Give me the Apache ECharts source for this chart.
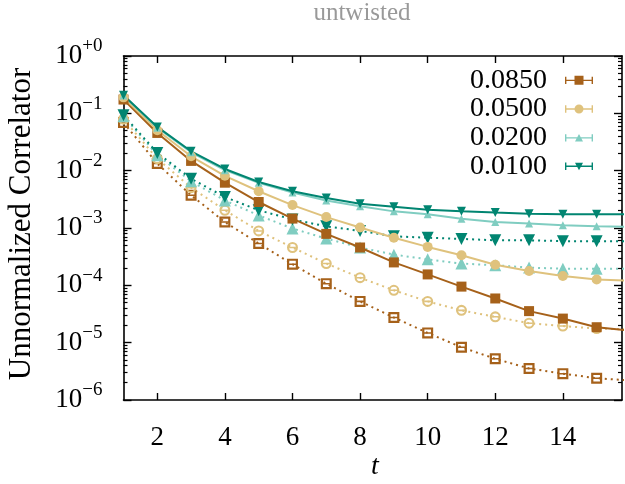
<!DOCTYPE html>
<html>
<head>
<meta charset="utf-8">
<script src="https://cdn.jsdelivr.net/npm/echarts@6/dist/echarts.min.js"></script>
<style>html,body{margin:0;padding:0;background:#fff}#c{width:625px;height:484px}</style>
</head>
<body>
<div id="c"></div>
<script>
// ---- data ----
const tValues = [1,2,3,4,5,6,7,8,9,10,11,12,13,14,15,16];
const legendNames = ['0.0850','0.0500','0.0200','0.0100'];
const colors = ['#a6611a','#dfc27d','#80cdc1','#018571'];
// solid curves (filled markers)
const solid0850 = [0.174,0.0455,0.0148,0.00617,0.00284,0.00146,7.9e-4,4.57e-4,2.51e-4,1.55e-4,9.5e-5,5.9e-5,3.55e-5,2.63e-5,1.86e-5,1.62e-5];
const solid0500 = [0.19,0.0507,0.0178,0.00813,0.00437,0.00251,0.00155,0.00102,6.76e-4,4.68e-4,3.34e-4,2.29e-4,1.78e-4,1.45e-4,1.26e-4,1.2e-4];
const solid0200 = [0.204,0.0562,0.0209,0.0102,0.00617,0.00417,0.00302,0.0024,0.00195,0.00174,0.00145,0.00127,0.0012,0.00112,0.00107,0.00105];
const solid0100 = [0.207,0.058,0.0218,0.0107,0.00635,0.00437,0.00334,0.00266,0.00234,0.00209,0.00195,0.00186,0.00178,0.00174,0.00174,0.00173];
// dotted curves (open markers)
const dotted0850 = [0.069,0.0133,0.00372,0.00127,5.37e-4,2.34e-4,1.07e-4,5.25e-5,2.75e-5,1.48e-5,8.3e-6,5.25e-6,3.55e-6,2.88e-6,2.4e-6,2.19e-6];
const dotted0500 = [0.079,0.0162,0.00506,0.00204,8.9e-4,4.57e-4,2.4e-4,1.36e-4,8.2e-5,5.25e-5,3.66e-5,2.82e-5,2.19e-5,1.95e-5,1.76e-5,1.7e-5];
const dotted0200 = [0.089,0.0186,0.00653,0.00302,0.00166,9.8e-4,6.53e-4,4.57e-4,3.43e-4,2.84e-4,2.4e-4,2.24e-4,2.04e-4,1.95e-4,1.95e-4,1.95e-4];
const dotted0100 = [0.0927,0.0204,0.00724,0.00347,0.00204,0.00141,0.00107,8.9e-4,7.16e-4,6.76e-4,6.46e-4,6.1e-4,6.1e-4,5.9e-4,5.9e-4,5.9e-4];
const xTicks = [2,4,6,8,10,12,14];
const yTicks = [1e-6,1e-5,1e-4,1e-3,1e-2,1e-1,1];
const yMinorTicks = [];
for (let e = -6; e < 0; e++) for (let k = 2; k <= 9; k++) yMinorTicks.push(k * Math.pow(10, e));

const FONT = 'Liberation Serif';
const pair = arr => tValues.map((t, i) => [t, arr[i]]);

// marker shapes
const openSquare = 'path://M0,0 H10 V10 H0 Z M2,2 V4.3 H8 V2 Z M2,5.7 V8 H8 V5.7 Z';
const openCircle = 'path://M0,5 A5,5 0 1 1 10,5 A5,5 0 1 1 0,5 Z M1.9,5 A3.1,3.1 0 1 0 8.1,5 A3.1,3.1 0 1 0 1.9,5 Z M2,4.3 H8 V5.7 H2 Z';
const eb = 'M0,3.8 H28 V5.2 H0 Z M0,0.8 H1.4 V8.2 H0 Z M26.6,0.8 H28 V8.2 H26.6 Z ';
const legendIcons = [
  'path://' + eb + 'M9.5,0 H18.5 V9 H9.5 Z',
  'path://' + eb + 'M9.5,4.5 A4.5,4.5 0 1 1 18.5,4.5 A4.5,4.5 0 1 1 9.5,4.5 Z',
  'path://' + eb + 'M14,0.5 L18,8 H10 Z',
  'path://' + eb + 'M10,1 H18 L14,8.5 Z'
];

const solidArrays = [solid0850, solid0500, solid0200, solid0100];
const dottedArrays = [dotted0850, dotted0500, dotted0200, dotted0100];
const solidSymbols = ['rect','circle','triangle','triangle'];
const solidSizes = [10,10,8,9];
const solidRot = [0,0,0,180];
const dottedSymbols = [openSquare, openCircle, 'triangle', 'triangle'];
const dottedSizes = [11,11,12,12];

const series = [];
for (let i = 0; i < 4; i++) {
  series.push({
    name: legendNames[i] + ' ',
    type: 'line', data: pair(dottedArrays[i]), clip: true,
    symbol: dottedSymbols[i], symbolSize: dottedSizes[i], symbolRotate: solidRot[i],
    showAllSymbol: true,
    itemStyle: {color: colors[i]},
    lineStyle: {color: colors[i], width: 2, type: [2, 4]},
    z: 2, animation: false
  });
}
for (let i = 0; i < 4; i++) {
  series.push({
    name: legendNames[i],
    type: 'line', data: pair(solidArrays[i]), clip: true,
    symbol: solidSymbols[i], symbolSize: solidSizes[i], symbolRotate: solidRot[i],
    showAllSymbol: true,
    itemStyle: {color: colors[i]},
    lineStyle: {color: colors[i], width: 2},
    z: 3, animation: false
  });
}

const axisLineStyle = {show: true, lineStyle: {color: '#000', width: 1.6}};
const supLabel = v => {
  const e = Math.round(Math.log10(v));
  const s = e === 0 ? '+0' : '\u2212' + (-e);
  return '{b|10}{s|' + s + '}';
};

const option = {
  animation: false,
  backgroundColor: '#fff',
  title: {
    text: 'untwisted', left: 357, top: -4, textAlign: 'center',
    textStyle: {fontFamily: FONT, fontSize: 25, fontWeight: 'normal', color: '#999'}
  },
  grid: {left: 123.5, right: 3, top: 56, bottom: 84, outerBoundsMode: 'none', containLabel: false},
  legend: {
    orient: 'vertical', right: 27, top: 61, align: 'right',
    itemWidth: 28, itemHeight: 9, itemGap: 0,
    data: legendNames.map((n, i) => ({name: n, icon: legendIcons[i]})),
    textStyle: {fontFamily: FONT, fontSize: 28, color: '#000', lineHeight: 28.7, padding: [0, 13, 0, 0]}
  },
  xAxis: [
    {
      type: 'value', position: 'bottom', min: 1, max: 15.75,
      axisLine: axisLineStyle,
      axisTick: {show: true, inside: true, length: 7, customValues: xTicks, lineStyle: {color: '#000', width: 1.4}},
      axisLabel: {customValues: xTicks, fontFamily: FONT, fontSize: 27, color: '#000', margin: 24},
      splitLine: {show: false}
    },
    {
      type: 'value', position: 'top', min: 1, max: 15.75,
      axisLine: axisLineStyle,
      axisTick: {show: true, inside: true, length: 7, customValues: xTicks, lineStyle: {color: '#000', width: 1.4}},
      axisLabel: {show: false}, splitLine: {show: false}
    }
  ],
  yAxis: [
    {
      type: 'log', logBase: 10, position: 'left', min: 1e-6, max: 1,
      axisLine: axisLineStyle,
      axisTick: {show: true, inside: true, length: 8, customValues: yTicks, lineStyle: {color: '#000', width: 1.4}},
      axisLabel: {
        customValues: yTicks, formatter: supLabel, margin: 21, color: '#000',
        rich: {
          b: {fontFamily: FONT, fontSize: 27, lineHeight: 38, color: '#000'},
          s: {fontFamily: FONT, fontSize: 19, lineHeight: 19, verticalAlign: 'top', color: '#000'}
        }
      },
      splitLine: {show: false}
    },
    {
      type: 'log', logBase: 10, position: 'left', min: 1e-6, max: 1,
      axisLine: {show: false},
      axisTick: {show: true, inside: true, length: 4, customValues: yMinorTicks, lineStyle: {color: '#000', width: 1.2}},
      axisLabel: {show: false}, splitLine: {show: false}
    },
    {
      type: 'log', logBase: 10, position: 'right', min: 1e-6, max: 1,
      axisLine: axisLineStyle,
      axisTick: {show: true, inside: true, length: 8, customValues: yTicks, lineStyle: {color: '#000', width: 1.4}},
      axisLabel: {show: false}, splitLine: {show: false}
    },
    {
      type: 'log', logBase: 10, position: 'right', min: 1e-6, max: 1,
      axisLine: {show: false},
      axisTick: {show: true, inside: true, length: 4, customValues: yMinorTicks, lineStyle: {color: '#000', width: 1.2}},
      axisLabel: {show: false}, splitLine: {show: false}
    }
  ],
  graphic: [
    {
      type: 'text', x: 22, y: 224, rotation: Math.PI / 2,
      style: {text: 'Unnormalized Correlator', font: '31px "' + FONT + '"', fill: '#000', align: 'center', verticalAlign: 'middle'}
    },
    {
      type: 'text', x: 375, y: 467,
      style: {text: 't', font: 'italic 28px "' + FONT + '"', fill: '#000', align: 'center', verticalAlign: 'middle'}
    }
  ],
  series: series
};

const chart = echarts.init(document.getElementById('c'), null, {renderer: 'canvas'});
chart.setOption(option);
</script>
</body>
</html>
